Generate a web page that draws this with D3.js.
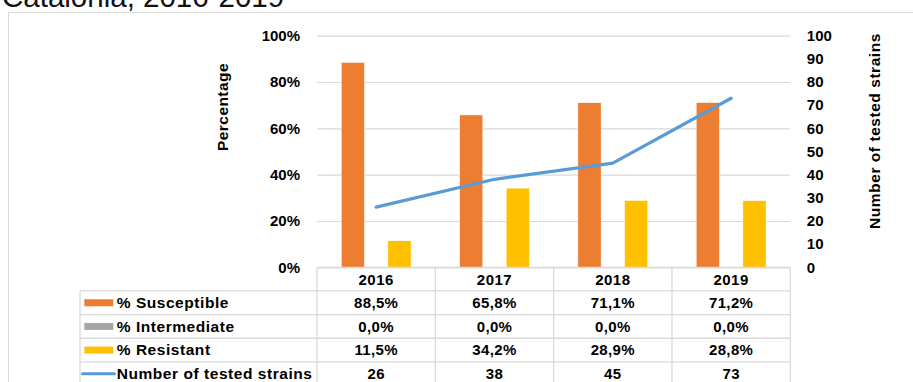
<!DOCTYPE html>
<html>
<head>
<meta charset="utf-8">
<script src="https://cdn.jsdelivr.net/npm/d3@7"></script>
<style>
  html, body { margin: 0; padding: 0; background: #fff; }
  svg { display: block; font-family: "Liberation Sans", Arial, sans-serif; }
</style>
</head>
<body>
<svg id="chart" width="913" height="382"></svg>
<script>
// Antimicrobial susceptibility results by year
const years = ["2016", "2017", "2018", "2019"];
const susceptible = [88.5, 65.8, 71.1, 71.2];
const intermediate = [0.0, 0.0, 0.0, 0.0];
const resistant = [11.5, 34.2, 28.9, 28.8];
const testedStrains = [26, 38, 45, 73];
const pctTicks = [0, 20, 40, 60, 80, 100];
const countTicks = [0, 10, 20, 30, 40, 50, 60, 70, 80, 90, 100];

const seriesNames = ["% Susceptible", "% Intermediate", "% Resistant"];
const seriesColors = ["#ED7D31", "#A5A5A5", "#FFC000"];
const lineName = "Number of tested strains";
const lineColor = "#5B9BD5";
const gridColor = "#D9D9D9";

const series = [susceptible, intermediate, resistant];

const svg = d3.select("#chart");

// layout
const plot = { left: 317, right: 790.3, top: 35.7, bottom: 267.3 };
const tableLeft = 80;
const rowH = 23.65;

// outer chart frame
svg.append("rect")
  .attr("x", 8.5).attr("y", 12.5)
  .attr("width", 920).attr("height", 400)
  .attr("fill", "#fff").attr("stroke", gridColor).attr("stroke-width", 1);

// title
svg.append("text")
  .attr("x", 2).attr("y", 7)
  .attr("font-size", 29.5)
  .attr("fill", "#111")
  .text("Catalonia, 2016-2019");

// scales
const x = d3.scaleBand().domain(years).range([plot.left, plot.right]).padding(0);
const yPct = d3.scaleLinear().domain([0, 100]).range([plot.bottom, plot.top]);
const yCount = d3.scaleLinear().domain([0, 100]).range([plot.bottom, plot.top]);
const barW = x.bandwidth() * 0.197;
const xSeries = d3.scaleBand().domain(d3.range(series.length))
  .range([x.bandwidth() / 2 - 1.5 * barW, x.bandwidth() / 2 + 1.5 * barW]).padding(0);

// left axis with gridlines
const leftAxis = svg.append("g")
  .attr("transform", `translate(${plot.left},0)`)
  .call(d3.axisLeft(yPct).tickValues(pctTicks)
    .tickSize(-(plot.right - plot.left)).tickPadding(17)
    .tickFormat(d => d + "%"));
leftAxis.select(".domain").remove();
leftAxis.selectAll(".tick line").attr("stroke", gridColor).attr("stroke-width", 1.2);
leftAxis.selectAll(".tick text")
  .attr("font-family", "Liberation Sans, Arial, sans-serif")
  .attr("font-size", 15).attr("font-weight", "bold").attr("fill", "#000");

// right axis
const rightAxis = svg.append("g")
  .attr("transform", `translate(${plot.right},0)`)
  .call(d3.axisRight(yCount).tickValues(countTicks).tickSize(0).tickPadding(16.5));
rightAxis.select(".domain").remove();
rightAxis.selectAll(".tick text")
  .attr("font-family", "Liberation Sans, Arial, sans-serif")
  .attr("font-size", 15).attr("font-weight", "bold").attr("fill", "#000");

// axis titles
svg.append("text")
  .attr("transform", `translate(228,107) rotate(-90)`)
  .attr("text-anchor", "middle")
  .attr("font-size", 15.5).attr("font-weight", "bold")
  .attr("letter-spacing", 0.45)
  .text("Percentage");
svg.append("text")
  .attr("transform", `translate(880,131) rotate(-90)`)
  .attr("text-anchor", "middle")
  .attr("font-size", 15.5).attr("font-weight", "bold")
  .attr("letter-spacing", 0.55)
  .text("Number of tested strains");

// bars
const groups = svg.append("g").selectAll("g")
  .data(years)
  .join("g")
  .attr("transform", d => `translate(${x(d)},0)`);
groups.selectAll("rect")
  .data((d, i) => series.map((s, k) => ({ k, v: s[i] })))
  .join("rect")
  .attr("x", d => xSeries(d.k))
  .attr("width", xSeries.bandwidth())
  .attr("y", d => yPct(d.v))
  .attr("height", d => yPct(0) - yPct(d.v))
  .attr("fill", d => seriesColors[d.k])
  .attr("stroke", d => d.v > 0 ? "#fff" : "none")
  .attr("stroke-width", 0.6);

// tested strains line
const line = d3.line()
  .x((d, i) => x(years[i]) + x.bandwidth() / 2)
  .y(d => yCount(d));
svg.append("path")
  .datum(testedStrains)
  .attr("d", line)
  .attr("fill", "none")
  .attr("stroke", lineColor)
  .attr("stroke-width", 3.2)
  .attr("stroke-linejoin", "round")
  .attr("stroke-linecap", "round");

// data table beneath the chart
const table = svg.append("g");
const rowTop = i => plot.bottom + rowH * i;  // i = 0 header row
const nRows = 5;

// horizontal rules
table.append("line")
  .attr("x1", plot.left).attr("x2", plot.right)
  .attr("y1", plot.bottom).attr("y2", plot.bottom)
  .attr("stroke", gridColor).attr("stroke-width", 1.3);
for (let r = 1; r <= nRows; r++) {
  table.append("line")
    .attr("x1", tableLeft).attr("x2", plot.right)
    .attr("y1", rowTop(r)).attr("y2", rowTop(r))
    .attr("stroke", gridColor).attr("stroke-width", 1.3);
}
// vertical rules
table.append("line")
  .attr("x1", tableLeft).attr("x2", tableLeft)
  .attr("y1", rowTop(1)).attr("y2", 400)
  .attr("stroke", gridColor).attr("stroke-width", 1.3);
[...years.map(y => x(y)), plot.right].forEach(xv => {
  table.append("line")
    .attr("x1", xv).attr("x2", xv)
    .attr("y1", plot.bottom).attr("y2", 400)
    .attr("stroke", gridColor).attr("stroke-width", 1.3);
});

// header: years
table.selectAll("text.year")
  .data(years)
  .join("text")
  .attr("class", "year")
  .attr("x", d => x(d) + x.bandwidth() / 2)
  .attr("y", rowTop(0) + rowH / 2 + 5.4)
  .attr("text-anchor", "middle")
  .attr("font-size", 15).attr("font-weight", "bold")
  .attr("letter-spacing", 0.5)
  .text(d => d);

const fmtPct = v => d3.format(".1f")(v).replace(".", ",") + "%";
const rows = [
  { name: seriesNames[0], color: seriesColors[0], values: susceptible.map(fmtPct), kind: "bar" },
  { name: seriesNames[1], color: seriesColors[1], values: intermediate.map(fmtPct), kind: "bar" },
  { name: seriesNames[2], color: seriesColors[2], values: resistant.map(fmtPct), kind: "bar" },
  { name: lineName, color: lineColor, values: testedStrains.map(String), kind: "line" }
];

rows.forEach((row, r) => {
  const cy = rowTop(r + 1) + rowH / 2;
  if (row.kind === "bar") {
    table.append("rect")
      .attr("x", 84.3).attr("y", cy - 3.5)
      .attr("width", 29).attr("height", 7)
      .attr("fill", row.color);
  } else {
    table.append("line")
      .attr("x1", 82.5).attr("x2", 114.5)
      .attr("y1", cy).attr("y2", cy)
      .attr("stroke", row.color).attr("stroke-width", 3)
      .attr("stroke-linecap", "round");
  }
  table.append("text")
    .attr("x", 116.7).attr("y", cy + 5.4)
    .attr("font-size", 15.5).attr("font-weight", "bold")
    .attr("letter-spacing", 0.55)
    .text(row.name);
  table.selectAll(null)
    .data(row.values)
    .join("text")
    .attr("x", (d, i) => x(years[i]) + x.bandwidth() / 2)
    .attr("y", cy + 5.4)
    .attr("text-anchor", "middle")
    .attr("font-size", 15).attr("font-weight", "bold")
    .attr("letter-spacing", 0.35)
    .text(d => d);
});
</script>
</body>
</html>
